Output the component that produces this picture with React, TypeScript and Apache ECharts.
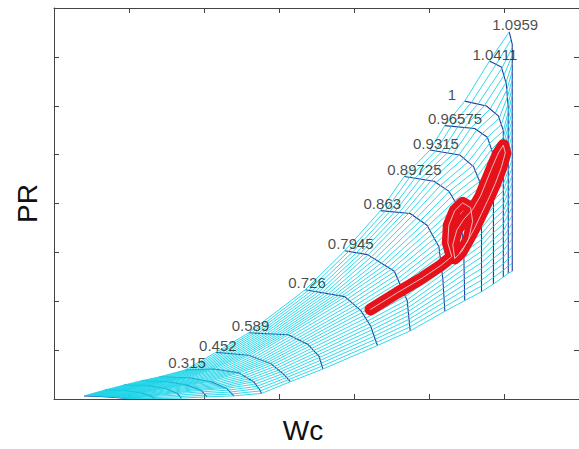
import React, { useEffect, useRef } from "react";
import * as echarts from "echarts";

// Corrected speed of each speed line (blank = unlabelled)
const speedLabels = [
  "", "", "", "", "",
  "0.315", "0.452", "0.589", "0.726", "0.7945", "0.863",
  "0.89725", "0.9315", "0.96575", "1", "1.0411", "1.0959",
];

// Speed lines, from the surge end to the choke end: corrected flow Wc
const speedLineWc: number[][] = [
  [4.03, 6.14, 8.12, 9.84],
  [6.8, 9.45, 11.69, 13.01, 13.41],
  [9.31, 12.48, 14.86, 16.45, 16.97],
  [11.69, 15.13, 17.77, 19.62, 20.41],
  [14.07, 18.03, 20.94, 23.05, 23.98],
  [17.5, 21.33, 24.64, 26.62, 27.41, 27.67],
  [21.6, 25.96, 29.0, 30.71, 31.51],
  [25.96, 31.24, 33.88, 35.34, 35.86],
  [33.49, 38.77, 40.89, 42.21, 43.13],
  [38.77, 41.81, 45.38, 47.09, 47.49],
  [43.53, 47.49, 49.74, 51.32, 51.85, 52.11],
  [46.7, 50.66, 52.64, 53.96, 54.62, 54.76],
  [50.13, 54.1, 55.94, 56.74, 57.0, 57.0],
  [52.11, 56.08, 57.79, 58.45, 58.59, 58.59],
  [54.76, 57.66, 59.25, 59.91, 59.91, 59.91],
  [58.06, 59.64, 60.3, 60.57, 60.57, 60.57],
  [60.7, 61.1, 61.1, 61.1, 61.1],
];

// Speed lines, from the surge end to the choke end: pressure ratio PR
const speedLinePR: number[][] = [
  [1.032, 1.027, 1.017, 1.005],
  [1.092, 1.087, 1.062, 1.027, 1.004],
  [1.142, 1.137, 1.107, 1.057, 1.009],
  [1.187, 1.177, 1.142, 1.087, 1.022],
  [1.227, 1.217, 1.177, 1.107, 1.032],
  [1.297, 1.307, 1.267, 1.177, 1.097, 1.057],
  [1.477, 1.447, 1.357, 1.247, 1.177],
  [1.677, 1.657, 1.557, 1.437, 1.307],
  [2.117, 2.047, 1.907, 1.747, 1.547],
  [2.517, 2.477, 2.307, 2.007, 1.697],
  [2.927, 2.897, 2.777, 2.557, 2.227, 1.897],
  [3.277, 3.227, 3.127, 2.957, 2.577, 2.007],
  [3.547, 3.497, 3.377, 3.227, 2.777, 2.097],
  [3.797, 3.767, 3.677, 3.527, 3.077, 2.177],
  [4.047, 3.997, 3.897, 3.747, 3.077, 2.247],
  [4.457, 4.397, 4.227, 3.977, 3.077, 2.287],
  [4.757, 4.627, 3.877, 3.077, 2.307],
];

// Operating trajectory
const trajWc = [
  42.21, 45.77, 49.08, 51.59, 53.04, 52.51, 52.64, 53.43, 54.49, 55.55,
  55.81, 55.28, 54.36, 53.43, 53.17, 53.7, 54.62, 55.81, 56.87, 57.66,
  58.45, 59.25, 59.91, 60.17, 59.64, 58.85, 57.93, 57.0, 56.08, 55.02,
  54.1,
];
const trajPR = [
  1.917, 2.087, 2.237, 2.367, 2.457, 2.597, 2.777, 2.927, 3.007, 2.957,
  2.817, 2.637, 2.507, 2.437, 2.577, 2.727, 2.837, 2.937, 3.077, 3.227,
  3.377, 3.517, 3.597, 3.517, 3.367, 3.207, 3.047, 2.897, 2.747, 2.597,
  2.497,
];

// Number of beta lines across the map
const betaCount = 31;

const X_MIN = 0;
const X_MAX = 70;
const X_STEP = 10;
const Y_MIN = 1;
const Y_MAX = 5;
const Y_STEP = 0.5;

const GRID = { left: 54, top: 8, width: 529, height: 400 };

// Point at fraction t of a speed line's on-screen length
function pointAt(wc: number[], pr: number[], t: number): [number, number] {
  const kx = GRID.width / (X_MAX - X_MIN);
  const ky = GRID.height / (Y_MAX - Y_MIN);
  const cum = [0];
  for (let i = 1; i < wc.length; i++) {
    const dx = (wc[i] - wc[i - 1]) * kx;
    const dy = (pr[i] - pr[i - 1]) * ky;
    cum.push(cum[i - 1] + Math.hypot(dx, dy));
  }
  const target = t * cum[cum.length - 1];
  for (let i = 1; i < wc.length; i++) {
    if (target <= cum[i] || i === wc.length - 1) {
      const len = cum[i] - cum[i - 1] || 1;
      const f = Math.min(1, Math.max(0, (target - cum[i - 1]) / len));
      return [wc[i - 1] + f * (wc[i] - wc[i - 1]), pr[i - 1] + f * (pr[i] - pr[i - 1])];
    }
  }
  return [wc[wc.length - 1], pr[pr.length - 1]];
}

const FONT = "'Liberation Sans', Arial, Helvetica, sans-serif";

export default function App() {
  const ref = useRef<HTMLDivElement>(null);

  useEffect(() => {
    if (!ref.current) return;
    const chart = echarts.init(ref.current, undefined, { renderer: "svg" });

    const series: any[] = [];

    // speed lines (dark blue)
    speedLineWc.forEach((wc, i) => {
      series.push({
        type: "line",
        data: wc.map((x, k) => [x, speedLinePR[i][k]]),
        symbol: "none",
        silent: true,
        z: 1,
        lineStyle: { color: "#26399c", width: 1.1 },
      });
    });

    // beta lines (cyan)
    for (let j = 0; j < betaCount; j++) {
      const t = j / (betaCount - 1);
      const data = speedLineWc.map((wc, i) => pointAt(wc, speedLinePR[i], t));
      series.push({
        type: "line",
        data,
        symbol: "none",
        silent: true,
        z: 2,
        lineStyle: { color: "#1ad4e8", width: 0.9 },
      });
    }

    const traj = trajWc.map((x, k) => [x, trajPR[k]]);
    series.push({
      type: "line",
      data: traj,
      symbol: "none",
      silent: true,
      z: 3,
      lineStyle: { color: "#e6121b", width: 12, cap: "round", join: "round" },
    });
    series.push({
      type: "line",
      data: traj,
      symbol: "none",
      silent: true,
      z: 4,
      lineStyle: { color: "#f2b8bb", width: 1, cap: "round", join: "round" },
    });

    // speed labels at the surge end of each line
    const labelData = speedLineWc
      .map((wc, i) => [wc[0], speedLinePR[i][0], speedLabels[i]])
      .filter((d) => d[2] !== "");
    series.push({
      type: "scatter",
      data: labelData,
      symbolSize: 0.1,
      silent: true,
      z: 5,
      itemStyle: { color: "rgba(0,0,0,0)" },
      label: {
        show: true,
        position: "right",
        distance: 0,
        offset: [-17, -7],
        formatter: (p: any) => p.data[2],
        color: "#1a1a1a",
        fontSize: 15,
        fontFamily: FONT,
      },
    });

    const axisLine = { show: true, onZero: false, lineStyle: { color: "#444", width: 1 } };
    const axisTick = { show: true, inside: true, length: 5, lineStyle: { color: "#444" } };

    chart.setOption({
      animation: false,
      backgroundColor: "#ffffff",
      grid: GRID,
      xAxis: [
        {
          type: "value",
          min: X_MIN,
          max: X_MAX,
          interval: X_STEP,
          position: "bottom",
          axisLine,
          axisTick,
          axisLabel: { show: false },
          splitLine: { show: false },
          name: "Wc",
          nameLocation: "middle",
          nameGap: 17,
          nameTextStyle: { fontSize: 28, fontFamily: FONT, color: "#111", padding: [0, 27, 0, 0] },
        },
        {
          type: "value",
          min: X_MIN,
          max: X_MAX,
          interval: X_STEP,
          position: "top",
          axisLine,
          axisTick,
          axisLabel: { show: false },
          splitLine: { show: false },
        },
      ],
      yAxis: [
        {
          type: "value",
          min: Y_MIN,
          max: Y_MAX,
          interval: Y_STEP,
          position: "left",
          axisLine,
          axisTick,
          axisLabel: { show: false },
          splitLine: { show: false },
          name: "PR",
          nameLocation: "middle",
          nameGap: 13,
          nameRotate: 90,
          nameTextStyle: { fontSize: 28, fontFamily: FONT, color: "#111" },
        },
        {
          type: "value",
          min: Y_MIN,
          max: Y_MAX,
          interval: Y_STEP,
          position: "right",
          axisLine,
          axisTick,
          axisLabel: { show: false },
          splitLine: { show: false },
        },
      ],
      series,
    });

    return () => chart.dispose();
  }, []);

  return (
    <div
      ref={ref}
      style={{ position: "fixed", left: 0, top: 0, width: 579, height: 449, background: "#fff" }}
    />
  );
}
